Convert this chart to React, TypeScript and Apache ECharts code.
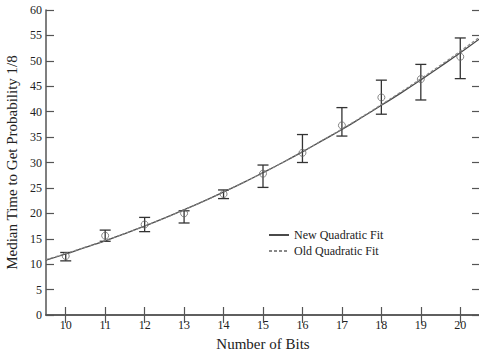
import React, { useEffect, useRef } from "react";
import * as echarts from "echarts";

const bits = [10, 11, 12, 13, 14, 15, 16, 17, 18, 19, 20];
const medianTime = [11.6, 15.6, 17.8, 20.0, 23.8, 27.8, 31.9, 37.3, 42.8, 46.4, 50.8];
const errLow = [10.65, 14.5, 16.4, 18.1, 22.9, 25.1, 30.0, 35.2, 39.5, 42.3, 46.5];
const errHigh = [12.3, 16.7, 19.2, 20.5, 24.6, 29.5, 35.5, 40.8, 46.2, 49.3, 54.5];

const fitX = [9.5, 10, 10.5, 11, 11.5, 12, 12.5, 13, 13.5, 14, 14.5, 15, 15.5, 16, 16.5, 17, 17.5, 18, 18.5, 19, 19.5, 20, 20.5];
const newFit = [10.8, 12.0, 13.3, 14.6, 16.0, 17.5, 19.05, 20.7, 22.4, 24.2, 26.05, 28.0, 30.0, 32.1, 34.3, 36.5, 38.85, 41.25, 43.7, 46.25, 48.9, 51.6, 54.4];
const oldFit = [10.9, 12.1, 13.35, 14.65, 16.05, 17.5, 19.05, 20.7, 22.4, 24.2, 26.05, 28.0, 30.0, 32.15, 34.35, 36.6, 38.95, 41.4, 43.9, 46.5, 49.15, 51.9, 54.75];

const xTicks = [10, 11, 12, 13, 14, 15, 16, 17, 18, 19, 20];

const SERIF = "'Liberation Serif', 'DejaVu Serif', serif";

export default function App() {
  const ref = useRef<HTMLDivElement>(null);
  useEffect(() => {
    if (!ref.current) return;
    const chart = echarts.init(ref.current, null, { renderer: "svg" });
    const axisLine = { show: true, lineStyle: { color: "#555", width: 1.5 } };
    const tick = { show: true, inside: true, length: 8, lineStyle: { color: "#555", width: 1.2 } };
    chart.setOption({
      animation: false,
      backgroundColor: "#fff",
      grid: { left: 46, top: 10, width: 434, height: 305, outerBoundsMode: "none", containLabel: false },
      legend: {
        data: ["New Quadratic Fit", "Old Quadratic Fit"],
        orient: "vertical",
        left: 264,
        top: 227,
        itemWidth: 20,
        itemHeight: 10,
        itemGap: 4,
        backgroundColor: "#fff",
        padding: [2, 4, 2, 4],
        itemStyle: { opacity: 0 },
        textStyle: { fontFamily: SERIF, fontSize: 12, color: "#222" },
      },
      xAxis: [
        {
          type: "value",
          min: 9.5,
          max: 20.5,
          position: "bottom",
          name: "Number of Bits",
          nameLocation: "middle",
          nameGap: 21,
          nameTextStyle: { fontFamily: SERIF, fontSize: 15, lineHeight: 15, color: "#222" },
          axisLine,
          axisTick: { ...tick, customValues: xTicks },
          axisLabel: { customValues: xTicks, fontFamily: SERIF, fontSize: 12, color: "#222", margin: 4 },
          splitLine: { show: false },
        },
        {
          type: "value",
          min: 9.5,
          max: 20.5,
          position: "top",
          axisLine,
          axisTick: { ...tick, customValues: xTicks },
          axisLabel: { show: false },
          splitLine: { show: false },
        },
      ],
      yAxis: [
        {
          type: "value",
          min: 0,
          max: 60,
          interval: 5,
          position: "left",
          name: "Median Time to Get Probability 1/8",
          nameLocation: "middle",
          nameGap: 23,
          nameTextStyle: { fontFamily: SERIF, fontSize: 15, color: "#222" },
          axisLine,
          axisTick: tick,
          axisLabel: { fontFamily: SERIF, fontSize: 12, color: "#222", margin: 4 },
          splitLine: { show: false },
        },
        {
          type: "value",
          min: 0,
          max: 60,
          interval: 5,
          position: "right",
          axisLine,
          axisTick: tick,
          axisLabel: { show: false },
          splitLine: { show: false },
        },
      ],
      series: [
        {
          name: "New Quadratic Fit",
          type: "line",
          data: fitX.map((x, i) => [x, newFit[i]]),
          smooth: true,
          symbol: "none",
          lineStyle: { color: "#4a4a4a", width: 1.3 },
          itemStyle: { color: "#4a4a4a" },
        },
        {
          name: "Old Quadratic Fit",
          type: "line",
          data: fitX.map((x, i) => [x, oldFit[i]]),
          smooth: true,
          symbol: "none",
          lineStyle: { color: "#888", width: 1.1, type: [3, 2] },
          itemStyle: { color: "#888" },
        },
        {
          name: "errors",
          type: "custom",
          data: bits.map((x, i) => [x, errLow[i], errHigh[i]]),
          encode: { x: 0, y: [1, 2] },
          renderItem: (params: any, api: any) => {
            const x = api.value(0);
            const lo = api.coord([x, api.value(1)]);
            const hi = api.coord([x, api.value(2)]);
            const hw = 5.5;
            const style = { stroke: "#333", lineWidth: 1.3 };
            return {
              type: "group",
              children: [
                { type: "line", shape: { x1: lo[0], y1: lo[1], x2: hi[0], y2: hi[1] }, style },
                { type: "line", shape: { x1: lo[0] - hw, y1: lo[1], x2: lo[0] + hw, y2: lo[1] }, style },
                { type: "line", shape: { x1: hi[0] - hw, y1: hi[1], x2: hi[0] + hw, y2: hi[1] }, style },
              ],
            };
          },
          z: 3,
        },
        {
          name: "points",
          type: "scatter",
          data: bits.map((x, i) => [x, medianTime[i]]),
          symbol: "circle",
          symbolSize: 7,
          itemStyle: { color: "rgba(255,255,255,0)", borderColor: "#666", borderWidth: 1 },
          z: 4,
        },
      ],
    });
    return () => chart.dispose();
  }, []);
  return <div ref={ref} style={{ position: "absolute", left: 0, top: 0, width: 479, height: 352 }} />;
}
